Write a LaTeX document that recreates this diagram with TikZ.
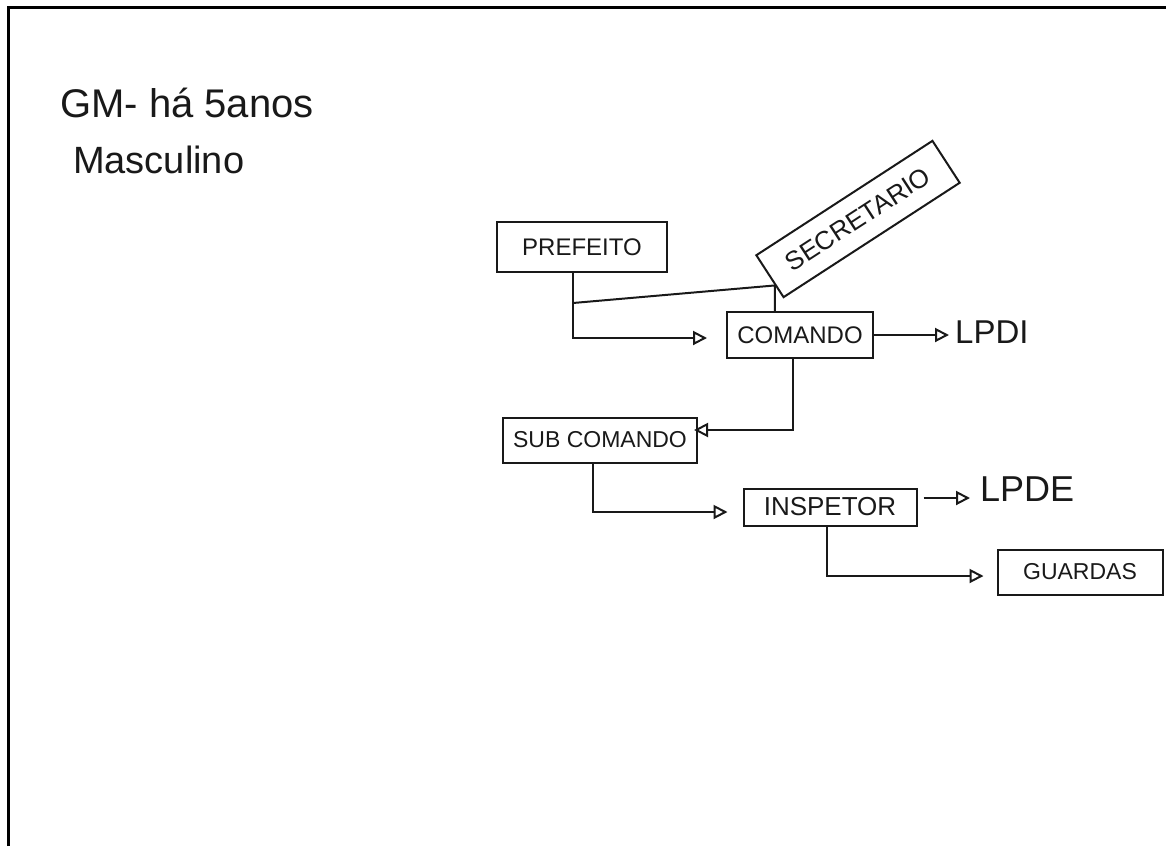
\documentclass[tikz,border=0pt]{standalone}
\usepackage{fontspec}
\setmainfont{Liberation Sans}
\usetikzlibrary{arrows.meta,calc}
\begin{document}
\begin{tikzpicture}[x=1pt,y=-1pt,
  ink/.style={draw=black!90, line width=2pt},
  box/.style={ink, rectangle, inner sep=0pt, text=black!90},
  conn/.style={ink, -{Triangle[open,length=14pt,width=14pt]}},
  plain/.style={ink},
  hand/.style={text=black!90, inner sep=0pt, anchor=west}]
\useasboundingbox (0,0) rectangle (1166,846);
\draw[line width=2.5pt] (8.5,846) -- (8.5,7.5) -- (1166,7.5);
\node[hand, font=\fontsize{40}{44}\selectfont] (gm) at (60,103) {GM- há 5anos};
\node[hand, font=\fontsize{38}{42}\selectfont] (masc) at (73,160) {Masculino};

\node[box, minimum width=170pt, minimum height=50pt, font=\fontsize{24}{28}\selectfont] (pref) at (582,247) {PREFEITO};
\node[box, minimum width=210pt, minimum height=50pt, rotate=33, font=\fontsize{26}{30}\selectfont] (sec) at (858,219) {SECRETARIO};
\node[box, minimum width=146pt, minimum height=46pt, font=\fontsize{24}{28}\selectfont] (com) at (800,335) {COMANDO};
\node[hand, font=\fontsize{33}{37}\selectfont] (lpdi) at (955,332) {LPDI};
\node[box, minimum width=194pt, minimum height=45pt, font=\fontsize{23}{27}\selectfont] (sub) at (600,440) {SUB COMANDO};
\node[box, minimum width=173pt, minimum height=37pt, font=\fontsize{26}{30}\selectfont] (insp) at (830,507) {INSPETOR};
\node[hand, font=\fontsize{36}{40}\selectfont] (lpde) at (980,489) {LPDE};
\node[box, minimum width=165pt, minimum height=45pt, font=\fontsize{23}{27}\selectfont] (guard) at (1080,572) {GUARDAS};

\coordinate (pa) at ($(pref.south)+(-9,0)$);
\draw[conn] (pa) |- ($(com.west)+(-19,3)$);
\coordinate (ja) at ($(pref.south)+(-9,30)$);
\coordinate (jb) at ($(sec.south west)!0.3!(sec.north west)$);
\draw[plain] (ja) -- (jb) -- (jb |- com.north);

\draw[conn, shorten >=6pt] (com.east) -- (com.east -| lpdi.west);
\draw[conn] ($(com.south)+(-7,0)$) |- ($(sub.east)+(-4,-10)$);
\draw[conn] ($(sub.south)+(-7,0)$) |- ($(insp.west)+(-15,5)$);
\coordinate (ie) at ($(insp.east)+(6,-9)$);
\draw[conn, shorten >=10pt] (ie) -- (ie -| lpde.west);
\draw[conn] ($(insp.south)+(-3,0)$) |- ($(guard.west)+(-13,4)$);
\end{tikzpicture}
\end{document}
